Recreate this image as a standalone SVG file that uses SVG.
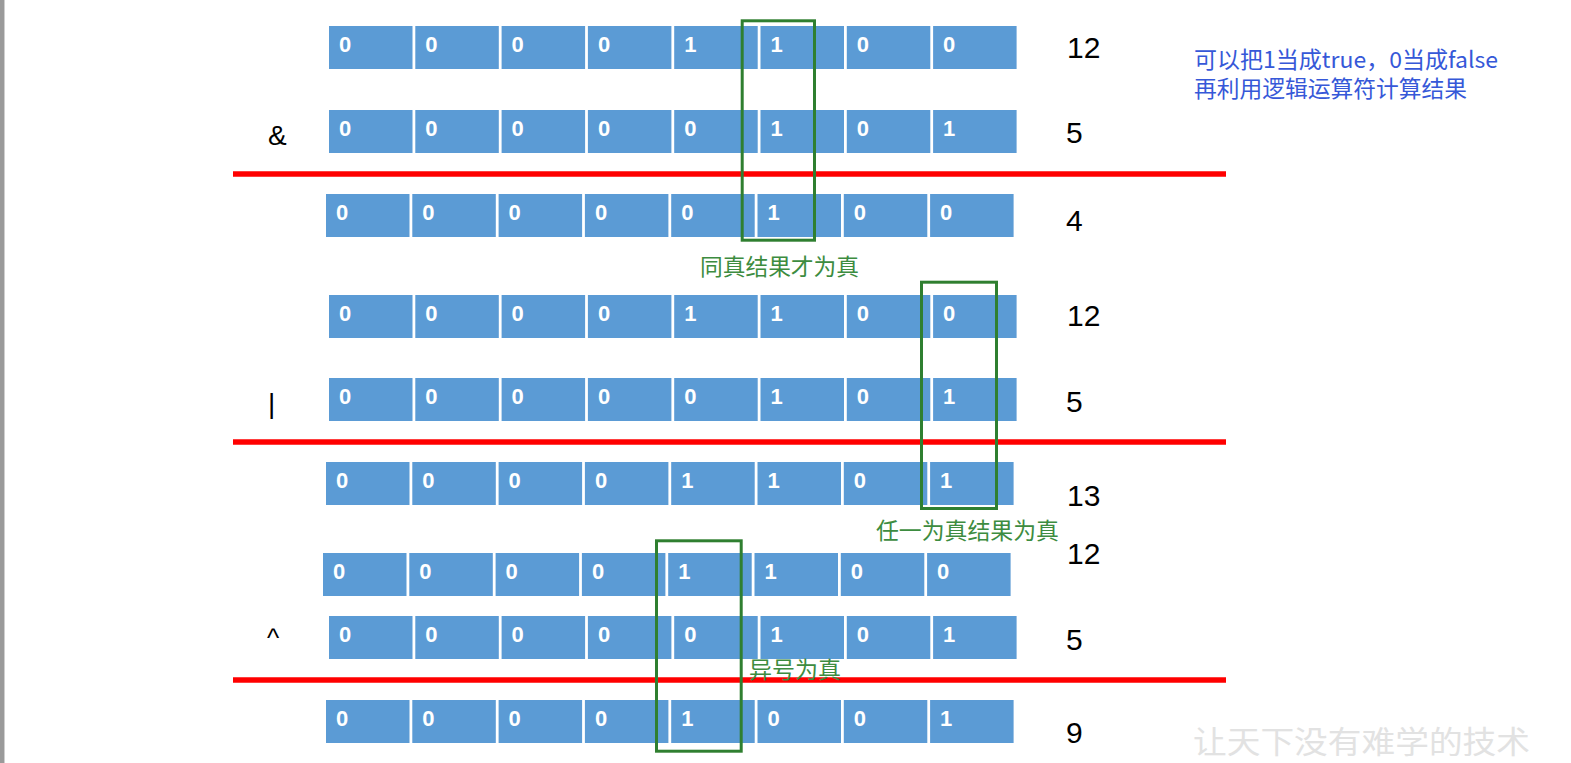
<svg xmlns="http://www.w3.org/2000/svg" width="1571" height="763" viewBox="0 0 1571 763">
<style>
.c{fill:#5B9BD5}
.d{font-family:"Liberation Sans",Arial,sans-serif;font-weight:bold;font-size:22px;fill:#ffffff}
.n{font-family:"Liberation Sans",Arial,sans-serif;font-size:30px;fill:#000000}
.op{font-family:"Liberation Sans",Arial,sans-serif;font-size:28px;fill:#000000}
.red{stroke:#FF0000;stroke-width:5.5;fill:none}
.box{stroke:#2F7F30;stroke-width:3;fill:none}
.g{font-family:"Noto Sans CJK SC","Noto Sans",sans-serif;font-size:22.5px;fill:#3D8C40}
.b{font-family:"Noto Sans CJK SC","Noto Sans",sans-serif;font-size:22.5px;fill:#3658D8}
.w{font-family:"Noto Sans CJK SC",sans-serif;font-size:31px;fill:#E2E2E2}
</style>
<defs>
<g id="cells">
<rect class="c" x="0" y="0" width="83.5" height="43"/>
<rect class="c" x="86.3" y="0" width="83.5" height="43"/>
<rect class="c" x="172.6" y="0" width="83.5" height="43"/>
<rect class="c" x="258.9" y="0" width="83.5" height="43"/>
<rect class="c" x="345.2" y="0" width="83.5" height="43"/>
<rect class="c" x="431.5" y="0" width="83.5" height="43"/>
<rect class="c" x="517.8" y="0" width="83.5" height="43"/>
<rect class="c" x="604.1" y="0" width="83.5" height="43"/>
</g>
</defs>
<rect x="0" y="0" width="1571" height="763" fill="#FFFFFF"/>
<rect x="0" y="0" width="4" height="763" fill="#9A9A9A"/>
<rect x="4" y="0" width="1" height="763" fill="#CFCFCF"/>

<g id="row1" transform="translate(329,26)">
<use href="#cells"/>
<g class="d"><text x="10" y="26">0</text><text x="96.3" y="26">0</text><text x="182.6" y="26">0</text><text x="268.9" y="26">0</text><text x="355.2" y="26">1</text><text x="441.5" y="26">1</text><text x="527.8" y="26">0</text><text x="614.1" y="26">0</text></g>
</g>
<g id="row2" transform="translate(329,110)">
<use href="#cells"/>
<g class="d"><text x="10" y="26">0</text><text x="96.3" y="26">0</text><text x="182.6" y="26">0</text><text x="268.9" y="26">0</text><text x="355.2" y="26">0</text><text x="441.5" y="26">1</text><text x="527.8" y="26">0</text><text x="614.1" y="26">1</text></g>
</g>
<g id="row3" transform="translate(326,194)">
<use href="#cells"/>
<g class="d"><text x="10" y="26">0</text><text x="96.3" y="26">0</text><text x="182.6" y="26">0</text><text x="268.9" y="26">0</text><text x="355.2" y="26">0</text><text x="441.5" y="26">1</text><text x="527.8" y="26">0</text><text x="614.1" y="26">0</text></g>
</g>
<g id="row4" transform="translate(329,295)">
<use href="#cells"/>
<g class="d"><text x="10" y="26">0</text><text x="96.3" y="26">0</text><text x="182.6" y="26">0</text><text x="268.9" y="26">0</text><text x="355.2" y="26">1</text><text x="441.5" y="26">1</text><text x="527.8" y="26">0</text><text x="614.1" y="26">0</text></g>
</g>
<g id="row5" transform="translate(329,378)">
<use href="#cells"/>
<g class="d"><text x="10" y="26">0</text><text x="96.3" y="26">0</text><text x="182.6" y="26">0</text><text x="268.9" y="26">0</text><text x="355.2" y="26">0</text><text x="441.5" y="26">1</text><text x="527.8" y="26">0</text><text x="614.1" y="26">1</text></g>
</g>
<g id="row6" transform="translate(326,462)">
<use href="#cells"/>
<g class="d"><text x="10" y="26">0</text><text x="96.3" y="26">0</text><text x="182.6" y="26">0</text><text x="268.9" y="26">0</text><text x="355.2" y="26">1</text><text x="441.5" y="26">1</text><text x="527.8" y="26">0</text><text x="614.1" y="26">1</text></g>
</g>
<g id="row7" transform="translate(323,553)">
<use href="#cells"/>
<g class="d"><text x="10" y="26">0</text><text x="96.3" y="26">0</text><text x="182.6" y="26">0</text><text x="268.9" y="26">0</text><text x="355.2" y="26">1</text><text x="441.5" y="26">1</text><text x="527.8" y="26">0</text><text x="614.1" y="26">0</text></g>
</g>
<g id="row8" transform="translate(329,616)">
<use href="#cells"/>
<g class="d"><text x="10" y="26">0</text><text x="96.3" y="26">0</text><text x="182.6" y="26">0</text><text x="268.9" y="26">0</text><text x="355.2" y="26">0</text><text x="441.5" y="26">1</text><text x="527.8" y="26">0</text><text x="614.1" y="26">1</text></g>
</g>
<g id="row9" transform="translate(326,700)">
<use href="#cells"/>
<g class="d"><text x="10" y="26">0</text><text x="96.3" y="26">0</text><text x="182.6" y="26">0</text><text x="268.9" y="26">0</text><text x="355.2" y="26">1</text><text x="441.5" y="26">0</text><text x="527.8" y="26">0</text><text x="614.1" y="26">1</text></g>
</g>

<g id="values" class="n">
<text x="1067" y="58">12</text>
<text x="1066" y="143">5</text>
<text x="1066" y="231">4</text>
<text x="1067" y="326">12</text>
<text x="1066" y="412">5</text>
<text x="1067" y="506">13</text>
<text x="1067" y="564">12</text>
<text x="1066" y="650">5</text>
<text x="1066" y="743">9</text>
</g>

<g id="operators" class="op">
<text x="268" y="145">&amp;</text>
<text x="268" y="413">|</text>
<text x="267" y="647" font-size="26">^</text>
</g>

<g id="connectors">
<line class="red" x1="233" y1="174" x2="1226" y2="174"/>
<line class="red" x1="233" y1="442" x2="1226" y2="442"/>
<line class="red" x1="233" y1="680" x2="1226" y2="680"/>
</g>

<g id="and-highlight">
<rect class="box" x="742.2" y="20.8" width="72.3" height="219.4"/>
<text class="g" x="700" y="275" textLength="159" lengthAdjust="spacingAndGlyphs">同真结果才为真</text>
</g>
<g id="or-highlight">
<rect class="box" x="921.5" y="282.2" width="75" height="226.3"/>
<text class="g" x="876" y="539" textLength="183" lengthAdjust="spacingAndGlyphs">任一为真结果为真</text>
</g>
<g id="xor-highlight">
<rect class="box" x="656.5" y="540.8" width="84.7" height="210.4"/>
<text class="g" x="749" y="678" textLength="92" lengthAdjust="spacingAndGlyphs">异号为真</text>
</g>

<g id="note">
<text class="b" x="1194" y="68" textLength="304" lengthAdjust="spacingAndGlyphs">可以把1当成true，0当成false</text>
<text class="b" x="1194" y="97" textLength="273" lengthAdjust="spacingAndGlyphs">再利用逻辑运算符计算结果</text>
</g>

<g id="watermark">
<text class="w" x="1193" y="753" textLength="337" lengthAdjust="spacingAndGlyphs">让天下没有难学的技术</text>
</g>
</svg>
